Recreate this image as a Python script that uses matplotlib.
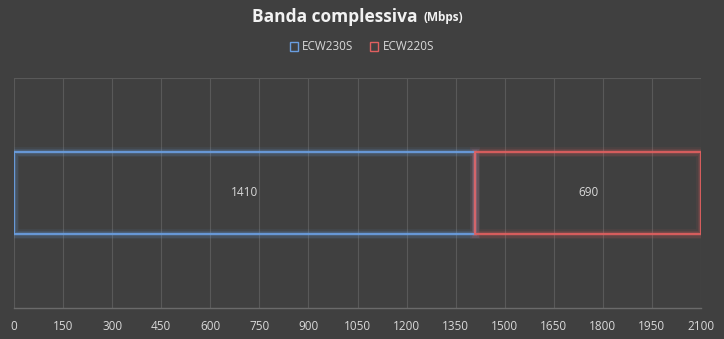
import numpy as np
import matplotlib.pyplot as plt
from matplotlib.patches import Patch

# dati
series = ['ECW230S', 'ECW220S']
values = [1410, 690]
edge_colors = ['#6a9ee0', '#e06060']
x_ticks = list(range(0, 2101, 150))

bg = '#404040'
txt = '#d9d9d9'

plt.rcParams['font.family'] = ['Open Sans', 'DejaVu Sans']

fig = plt.figure(figsize=(7.24, 3.39), dpi=100, facecolor=bg)
ax = fig.add_axes([14 / 724, 1 - 308 / 339, 687 / 724, 230 / 339], facecolor=bg)

left = 0
for name, v, c in zip(series, values, edge_colors):
    # alone morbido attorno al bordo
    for lw, a in [(7, 0.08), (5, 0.12), (3, 0.2)]:
        ax.barh(0, v, left=left, height=0.36, facecolor='none', edgecolor=c,
                linewidth=lw, alpha=a, zorder=3)
    ax.barh(0, v, left=left, height=0.36, facecolor='none', edgecolor=c,
            linewidth=1.3, zorder=4)
    ax.text(left + v / 2, 0, str(v), ha='center', va='center', color=txt,
            fontsize=8.5, zorder=5)
    left += v

ax.set_xlim(0, 2100)
ax.set_ylim(-0.5, 0.5)
ax.set_xticks(x_ticks)
ax.set_xticklabels([str(t) for t in x_ticks], color=txt, fontsize=8.5)
ax.tick_params(axis='x', length=0, pad=9)
ax.set_yticks([])
ax.grid(True, axis='x', color='#595959', linewidth=0.8, zorder=0)
ax.axhline(0.5, color='#595959', linewidth=0.8, zorder=0)
for s in ['top', 'left', 'right']:
    ax.spines[s].set_visible(False)
ax.spines['bottom'].set_color('#6a6a6a')
ax.spines['bottom'].set_linewidth(1.0)

# titolo
fig.text(418 / 724, 1 - 17 / 339, 'Banda complessiva', ha='right', va='center',
         color='#f2f2f2', fontsize=12.5, fontweight='bold')
fig.text(423 / 724, 1 - 18 / 339, '(Mbps)', ha='left', va='center',
         color='#f2f2f2', fontsize=8.5, fontweight='bold')

handles = [Patch(facecolor='none', edgecolor=c, linewidth=1.0, label=n)
           for n, c in zip(series, edge_colors)]
fig.legend(handles=handles, loc='center', bbox_to_anchor=(0.5, 1 - 47 / 339), ncol=2,
           frameon=False, fontsize=8.5, labelcolor=txt,
           handlelength=0.7, handleheight=0.7, handletextpad=0.35,
           columnspacing=1.4)

fig.savefig('out.png', dpi=100, facecolor=bg)
